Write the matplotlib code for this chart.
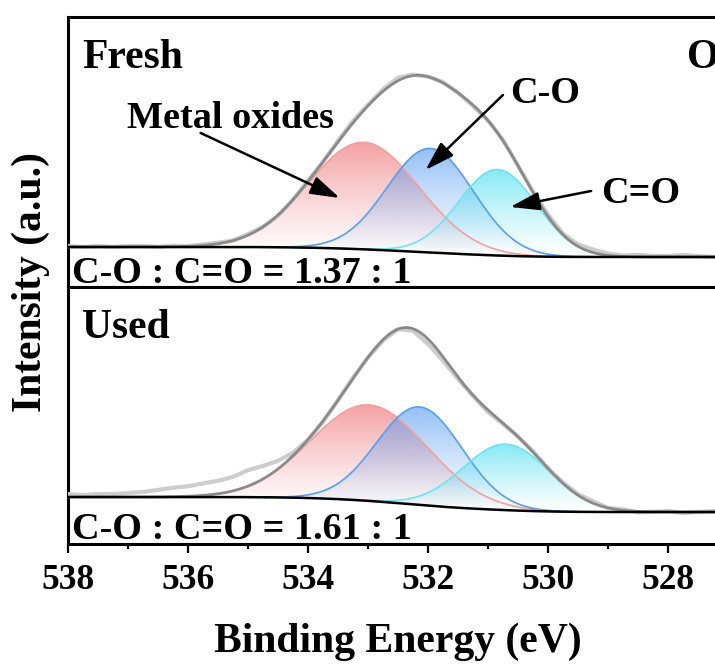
import numpy as np
import matplotlib
matplotlib.use("Agg")
from matplotlib import pyplot as plt
from matplotlib.patches import Polygon
from matplotlib.colors import to_rgb
from matplotlib.ticker import MultipleLocator

plt.rcParams['font.family'] = ['Liberation Serif', 'DejaVu Serif']
plt.rcParams['font.weight'] = 'bold'

# fitted components: centre (eV), height, sigma (eV)
# order: metal oxides, C-O, C=O
fill_colors = ['#f07b7e', '#4f97f1', '#45def0']
edge_colors = ['#f2a0a2', '#5a9ef0', '#6fe3f0']
alpha_tops = [0.75, 0.66, 0.7]

fresh_centers = [533.07, 531.96, 530.84]
fresh_heights = [107, 104, 86]
fresh_sigmas = [0.92, 0.72, 0.65]
fresh_bg = (40, 30)   # background at 538 eV and at 527 eV

used_centers = [532.98, 532.14, 530.70]
used_heights = [96, 98, 66]
used_sigmas = [0.97, 0.71, 0.72]
used_bg = (47, 32)

# raw spectrum minus fit, every 0.25 eV from 538 to 527
fresh_residual = [1, 0, 1, 0, 1, 1, 0, 1, 0, 1,
                  1, 0, 1, 0, -1, 0, 1, 0, 1, 2,
                  1, 2, 3, 1, 0, 1, 0, -1, 0, 1,
                  0, 1, 2, 1, 2, 3, 2, 1, 2, 1,
                  1, 2, 1, 0, 1]
used_residual = [3, 2, 3, 3, 4, 5, 7, 9, 10, 12,
                 13, 14, 16, 13, 8, 3, 0, -1, 0, 1,
                 0, -1, 0, -2, -5, -4, -2, -1, -2, -1,
                 0, 1, 0, 1, 1, 2, 0, 1, -1, 0,
                 1, -1, 0, 1, 0]

E = np.linspace(538, 527, 1101)


def shirley(total, bg_left, bg_right):
    t = total[::-1]
    e = E[::-1]
    cum = np.concatenate([[0], np.cumsum((t[1:] + t[:-1]) / 2 * np.diff(e))])
    frac = cum / cum[-1]
    return (bg_right + (bg_left - bg_right) * frac)[::-1]


def gradient_fill(ax, base, top, color, alpha_top):
    verts = np.column_stack([np.r_[E, E[::-1]], np.r_[top, base[::-1]]])
    patch = Polygon(verts, closed=True, facecolor='none', edgecolor='none')
    ax.add_patch(patch)
    img = np.zeros((256, 1, 4))
    img[:, 0, :3] = to_rgb(color)
    img[:, 0, 3] = np.linspace(0, alpha_top, 256) ** 1.2
    im = ax.imshow(img, aspect='auto', origin='lower', interpolation='bilinear',
                   extent=[E.max(), E.min(), base.min(), top.max()], zorder=1)
    im.set_clip_path(patch)


def plot_panel(ax, centers, heights, sigmas, bg, residual, ytop):
    peaks = [h * np.exp(-(E - c) ** 2 / (2 * s ** 2)) for c, h, s in zip(centers, heights, sigmas)]
    total = np.sum(peaks, axis=0)
    base = shirley(total, bg[0], bg[1])
    envelope = base + total
    raw = envelope[::25] + np.array(residual)

    for p, fc, ec, a in zip(peaks, fill_colors, edge_colors, alpha_tops):
        gradient_fill(ax, base, base + p, fc, a)
        ax.plot(E, base + p, color=ec, lw=1.2, zorder=2)
    ax.plot(E[::25], raw, color='#cdcdcd', lw=3, zorder=3)
    ax.plot(E, envelope, color='#8a8a8a', lw=2, zorder=4)
    ax.plot(E, base, color='black', lw=1.8, zorder=5)

    ax.set_xlim(538, 527)
    ax.set_ylim(0, ytop)
    ax.set_yticks([])
    for sp in ax.spines.values():
        sp.set_linewidth(2.2)


fig = plt.figure(figsize=(7.15, 6.64), dpi=100)
ax1 = fig.add_axes([0.0951, 0.5678, 0.923, 0.4059])
ax2 = fig.add_axes([0.0951, 0.1807, 0.923, 0.3870])

plot_panel(ax1, fresh_centers, fresh_heights, fresh_sigmas, fresh_bg, fresh_residual, 269.5)
plot_panel(ax2, used_centers, used_heights, used_sigmas, used_bg, used_residual, 257)

ax1.set_xticks([])
ax2.xaxis.set_major_locator(MultipleLocator(2))
ax2.xaxis.set_minor_locator(MultipleLocator(1))
ax2.tick_params(axis='x', which='major', direction='out', length=6.5, width=1.6,
                labelsize=25.5, pad=8)
ax2.tick_params(axis='x', which='minor', direction='out', length=3.6, width=1.6)
ax2.set_xlabel('Binding Energy (eV)', fontsize=30, fontweight='bold', labelpad=18)
fig.text(0.043, 0.575, 'Intensity (a.u.)', rotation=90, fontsize=30,
         fontweight='bold', ha='center', va='center')

# labels
ax1.text(537.77, 219, 'Fresh', fontsize=30, va='baseline')
ax1.text(527.68, 219, 'O 1s', fontsize=30, va='baseline')
ax2.text(537.77, 206, 'Used', fontsize=30, va='baseline')
ax1.text(537.93, 4, 'C-O : C=O = 1.37 : 1', fontsize=27.5, va='baseline')
ax2.text(537.93, 5, 'C-O : C=O = 1.61 : 1', fontsize=27.5, va='baseline')

ax1.text(537.01, 159, 'Metal oxides', fontsize=27.5, va='baseline')
ax1.text(530.63, 184, 'C-O', fontsize=27.5, va='baseline')
ax1.text(529.12, 84, 'C=O', fontsize=27.5, va='baseline')

arrow = dict(arrowstyle='-|>,head_length=0.9,head_width=0.28', color='black',
             lw=1.8, mutation_scale=20, shrinkA=0, shrinkB=0)
ax1.annotate('', xy=(533.47, 89), xytext=(535.79, 154), arrowprops=arrow, zorder=6)
ax1.annotate('', xy=(532.04, 117), xytext=(530.75, 192), arrowprops=arrow, zorder=6)
ax1.annotate('', xy=(530.63, 80), xytext=(529.28, 96), arrowprops=arrow, zorder=6)

fig.savefig('out.png', dpi=100)
